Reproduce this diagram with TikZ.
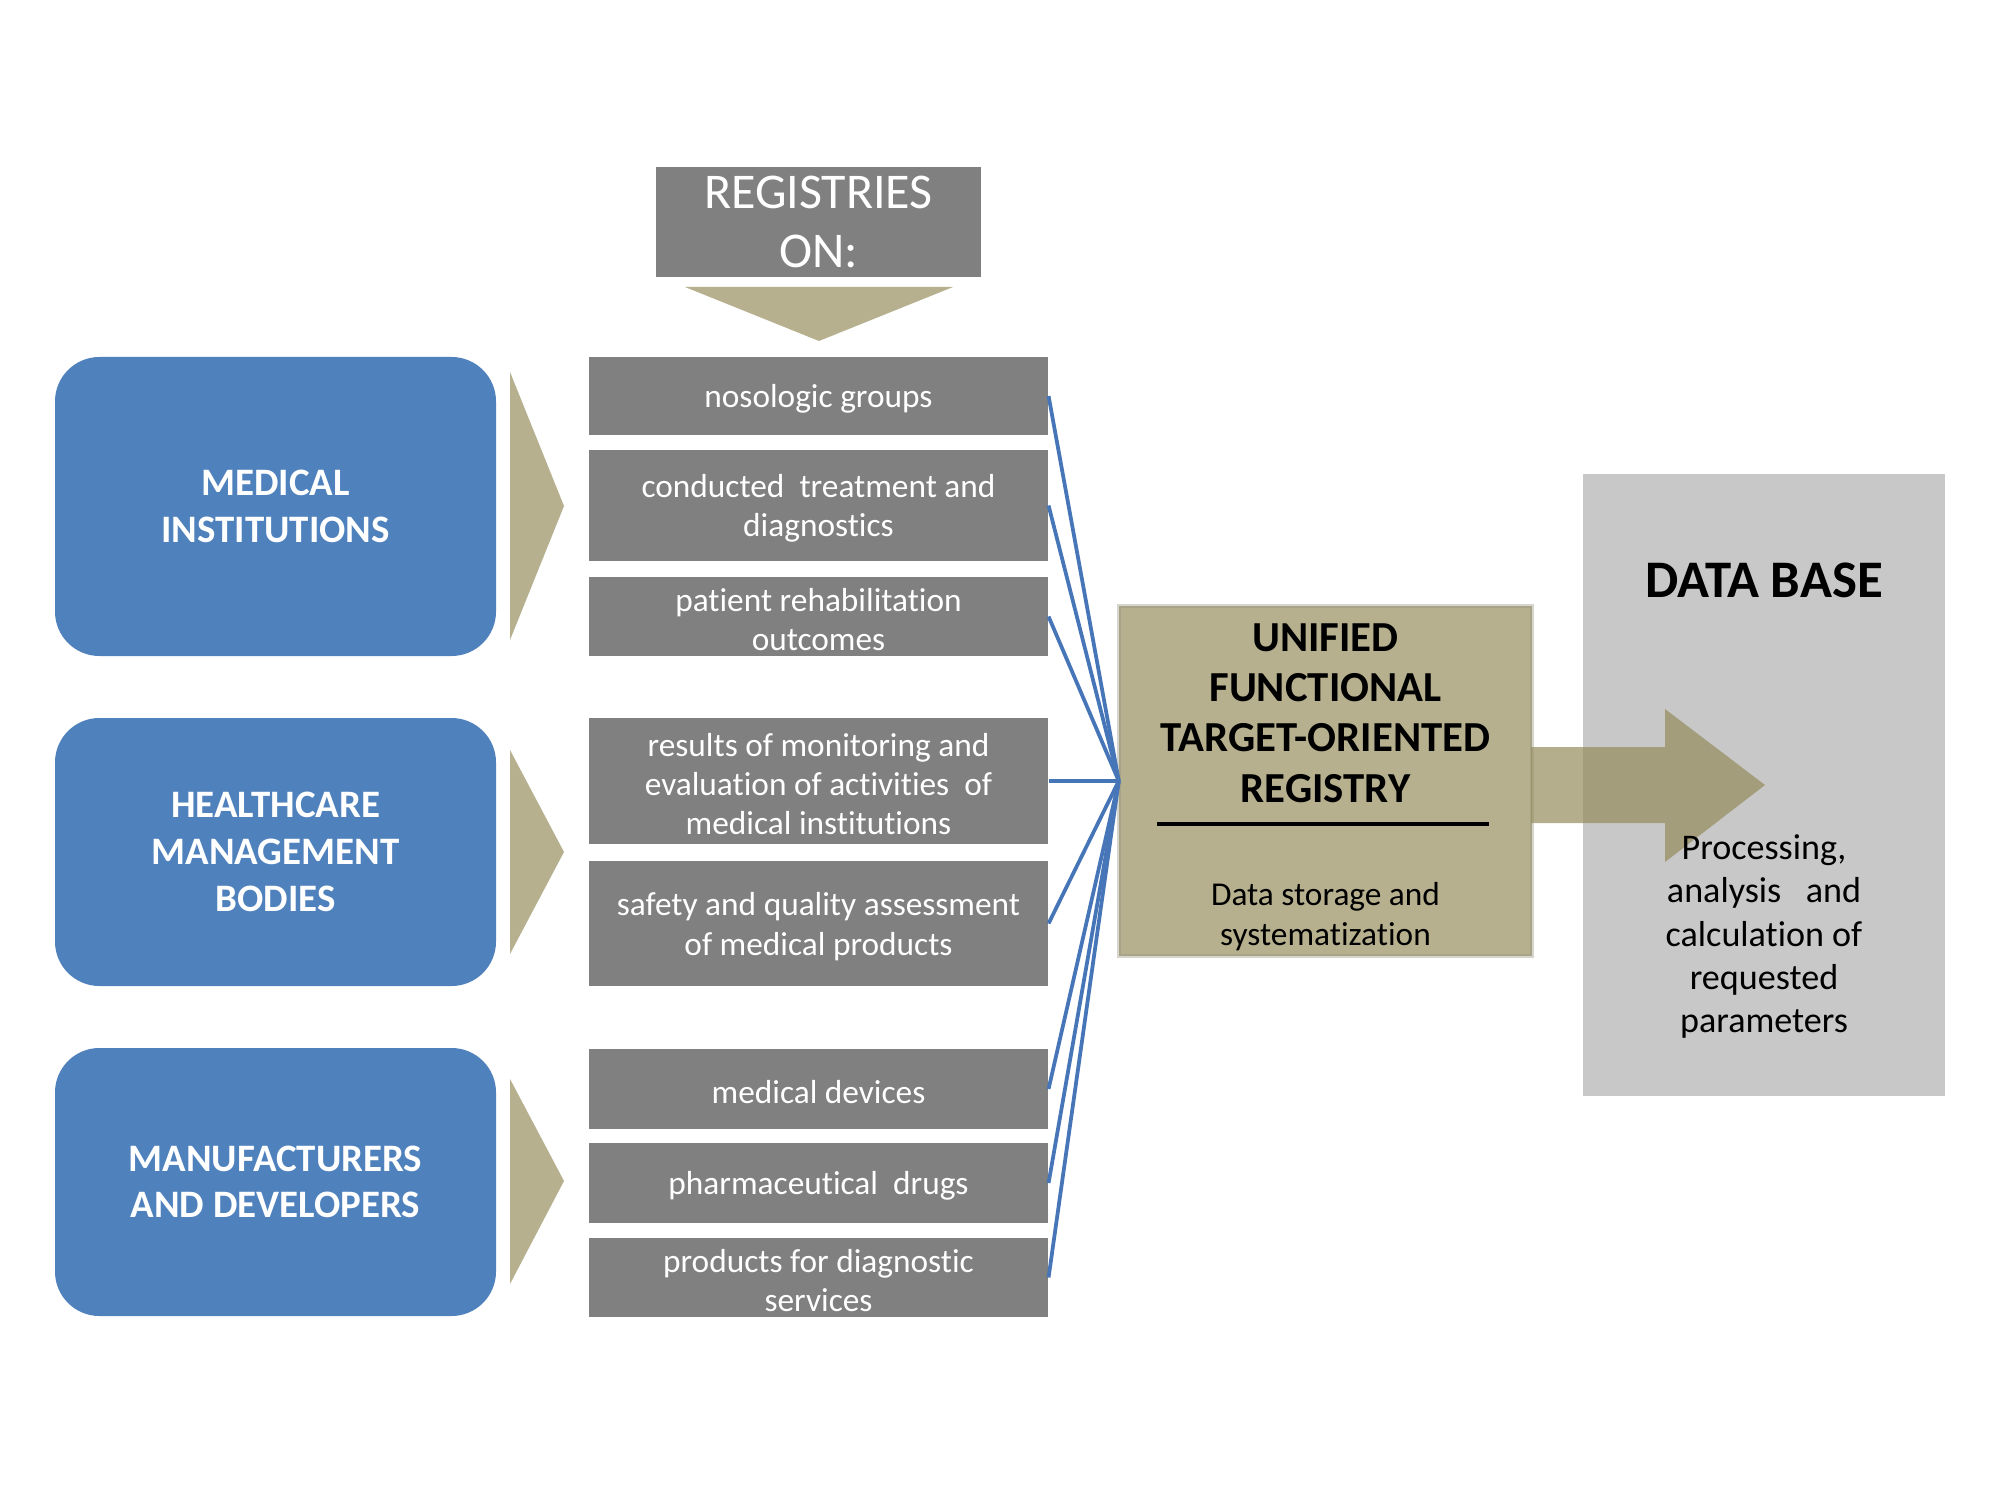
\documentclass[tikz,border=0pt]{standalone}
\usepackage{fontspec}
\setmainfont{Carlito}[Ligatures={NoCommon}]
\definecolor{blueC}{HTML}{4F81BD}
\definecolor{greyC}{HTML}{808080}
\definecolor{khaki}{HTML}{B6B08E}
\definecolor{khakiB}{HTML}{A8A487}
\definecolor{outerC}{HTML}{D6D6CE}
\definecolor{arrowC}{RGB}{148,139,91}
\definecolor{dbC}{HTML}{C8C8C8}
\definecolor{lineC}{HTML}{4676B8}
\begin{document}
\begin{tikzpicture}[x=0.36pt,y=-0.36pt,
  blu/.style={fill=blueC, rounded corners=16pt, minimum width=158.76pt, text=white,
    font=\fontsize{14}{16.8}\selectfont\bfseries, align=center, inner sep=0pt},
  gry/.style={fill=greyC, minimum width=165.24pt, inner sep=0pt},
  gtxt/.style={text=white, font=\fontsize{12}{14.2}\selectfont, align=center,
    inner sep=0pt, yshift=-1.1pt},
  chev/.style={fill=khaki},
  link/.style={draw=lineC, line width=1.35pt}]
\useasboundingbox (0,0) rectangle (2000,1500);
\fill[white] (0,0) rectangle (2000,1500);

% top header
\node[fill=greyC, minimum width=117pt, minimum height=39.6pt, inner sep=0pt, text=white,
  font=\fontsize{18}{21.1}\selectfont, align=center] (reg) at (818.5,222) {REGISTRIES\\ON:};
\fill[chev] (685,287) -- (953,287) -- (819,341) -- cycle;

% left blue boxes
\node[blu, minimum height=107.64pt] (mi) at (275.5,506.5) {MEDICAL\\INSTITUTIONS};
\node[blu, minimum height=96.48pt] (hm) at (275.5,852) {HEALTHCARE\\MANAGEMENT\\BODIES};
\node[blu, minimum height=96.48pt] (md) at (275.5,1182) {MANUFACTURERS\\AND DEVELOPERS};

% chevrons
\fill[chev] (510,372) -- (564,506) -- (510,640) -- cycle;
\fill[chev] (510,750) -- (564,852) -- (510,954) -- cycle;
\fill[chev] (510,1079) -- (564,1181) -- (510,1284) -- cycle;

% grey registry boxes
\node[gry, minimum height=28.08pt, label={[gtxt]center:{nosologic groups}}] (g1) at (818.5,396) {};
\node[gry, minimum height=39.96pt, label={[gtxt]center:{conducted\ \ treatment and\\diagnostics}}] (g2) at (818.5,505.5) {};
\node[gry, minimum height=28.44pt, label={[gtxt]center:{patient rehabilitation\\outcomes}}] (g3) at (818.5,616.5) {};
\node[gry, minimum height=45.36pt, label={[gtxt]center:{results of monitoring and\\evaluation of activities\ \ of\\medical institutions}}] (g4) at (818.5,781) {};
\node[gry, minimum height=45pt, label={[gtxt]center:{safety and quality assessment\\of medical products}}] (g5) at (818.5,923.5) {};
\node[gry, minimum height=28.8pt, label={[gtxt]center:{medical devices}}] (g6) at (818.5,1089) {};
\node[gry, minimum height=28.8pt, label={[gtxt]center:{pharmaceutical\ \ drugs}}] (g7) at (818.5,1183) {};
\node[gry, minimum height=28.44pt, label={[gtxt]center:{products for diagnostic\\services}}] (g8) at (818.5,1277.5) {};

% central registry
\node[fill=khaki, draw=khakiB, line width=0.9pt, preaction={draw=outerC, line width=2.2pt},
  minimum width=147.96pt, minimum height=125.28pt, inner sep=0pt] (uc) at (1325.5,781) {};
\node[font=\fontsize{15.4}{18.1}\selectfont\bfseries, align=center, inner sep=0pt] (uct)
  at (1325.5,713) {UNIFIED\\FUNCTIONAL\\TARGET-ORIENTED\\REGISTRY};
\draw[line width=1.1pt] (1157,824) -- (1489,824);
\node[font=\fontsize{12}{14.2}\selectfont, align=center, inner sep=0pt] (ucs)
  at (1325.5,916.5) {Data storage and\\systematization};

% connectors
\foreach \g in {g1,g2,g3,g4,g5,g6,g7,g8}
  \draw[link] (\g.east) -- (uc.west);

% database
\node[fill=dbC, minimum width=130.32pt, minimum height=223.92pt, inner sep=0pt] (db) at (1764,785) {};
\fill[arrowC, opacity=0.69] (1531,747) -- (1665,747) -- (1665,709) -- (1765,785) -- (1665,862)
  -- (1665,823) -- (1531,823) -- cycle;
\node[font=\fontsize{19}{22.8}\selectfont\bfseries, inner sep=0pt] (dbt) at (1764,580) {DATA BASE};
\node[font=\fontsize{13}{15.6}\selectfont, align=center, inner sep=0pt] (dbs) at (1764,936.5)
  {Processing,\\analysis\ \ \ and\\calculation of\\requested\\parameters};
\end{tikzpicture}
\end{document}
